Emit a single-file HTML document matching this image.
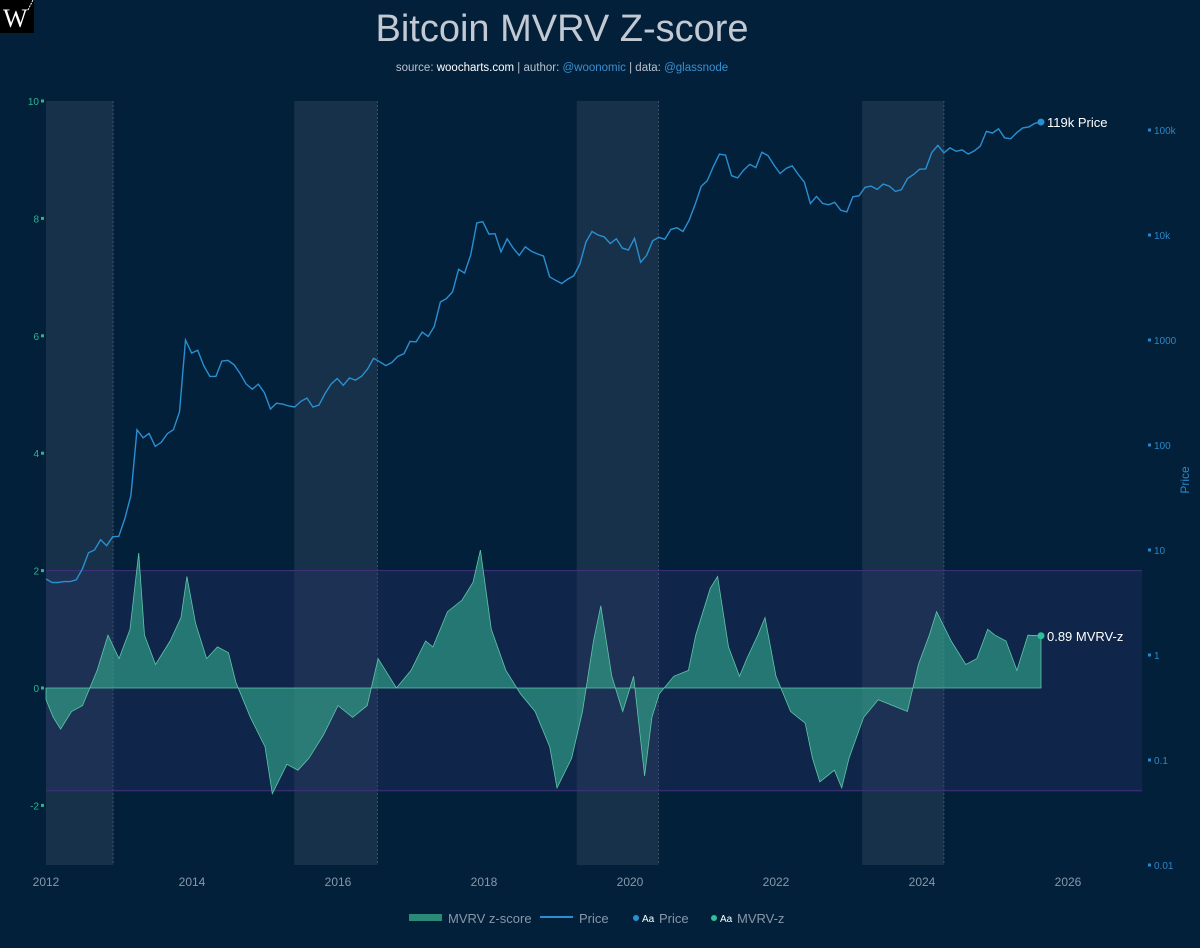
<!DOCTYPE html>
<html><head><meta charset="utf-8"><style>
html,body{margin:0;padding:0;background:#03203a;}
svg{display:block;font-family:"Liberation Sans",sans-serif;}
</style></head><body>
<svg id="chart" width="1200" height="948" viewBox="0 0 1200 948">
<rect x="0" y="0" width="1200" height="948" fill="#03203a"/>
<g><rect x="0" y="0" width="34" height="33" fill="#000"/><text x="3" y="27" fill="#fff" font-family="Liberation Serif,serif" font-size="26">W</text><line x1="28" y1="10" x2="33" y2="0" stroke="#fff" stroke-dasharray="2,1"/></g>
<text x="562" y="41" text-anchor="middle" fill="#c3c9d2" font-size="38" font-weight="200">Bitcoin MVRV Z-score</text>
<text x="562" y="71" text-anchor="middle" fill="#b9c1cc" font-size="11.5">source: <tspan fill="#fff">woocharts.com</tspan> | author: <tspan fill="#3a8fd0">@woonomic</tspan> | data: <tspan fill="#3a8fd0">@glassnode</tspan></text>
<g id="shade"></g>
<g id="band"></g>
<g id="zarea"></g>
<g id="priceg"></g>
<g id="axes"></g>
<g font-size="13" fill="#8797aa">
<rect x="409" y="914" width="33" height="7" fill="#2a8a77"/>
<text x="448" y="923" fill="#8797aa">MVRV z-score</text>
<line x1="540" y1="917" x2="573" y2="917" stroke="#2a8fd0" stroke-width="2"/>
<text x="579" y="923" fill="#8797aa">Price</text>
<circle cx="636" cy="918" r="3" fill="#2a8fd0"/>
<text x="642" y="922" font-size="10" fill="#fff">Aa</text><text x="659" y="923" fill="#8797aa">Price</text>
<circle cx="714" cy="918" r="3" fill="#2bc19a"/>
<text x="720" y="922" font-size="10" fill="#fff">Aa</text><text x="737" y="923" fill="#8797aa">MVRV-z</text>
</g>
</svg>
<script>
const priceStart = 2012.0;
const priceMonthly = [5.3,4.9,4.9,5,5,5.2,6.6,9.4,10,12.5,11,13.4,
13.5,20,33,140,117,129,97,106,128,140,206,1000,
750,800,570,450,450,630,640,580,480,380,340,380,
315,220,250,245,235,230,260,280,230,240,310,380,
430,370,435,415,450,530,670,620,570,610,700,740,
970,960,1190,1080,1350,2300,2480,2870,4700,4340,6450,13000,
13400,10200,10300,6900,9200,7500,6400,7700,7000,6600,6300,4000,
3700,3450,3800,4100,5300,8600,10800,10000,9600,8300,9200,7500,
7200,9300,5500,6400,8800,9500,9100,11300,11700,10800,13800,19600,
29000,33000,45000,58800,57700,36700,35000,41500,47100,43800,61300,57000,
46300,38500,43200,45500,37700,31800,19900,23300,20000,19400,20500,17200,
16600,23100,23600,28400,29200,27200,30500,29200,26000,27000,34500,37700,
42300,42600,61100,71300,60600,67500,62700,64600,58900,63300,70200,97000,
93400,102400,84300,82500,94200,104600,107100,115700,119000];
const zYears = [2012.0,2012.1,2012.2,2012.35,2012.5,2012.7,2012.85,2013.0,2013.15,2013.27,2013.35,2013.5,2013.7,2013.85,2013.93,2014.05,2014.2,2014.35,2014.5,2014.6,2014.8,2015.0,2015.1,2015.3,2015.45,2015.6,2015.8,2016.0,2016.2,2016.4,2016.55,2016.8,2017.0,2017.2,2017.3,2017.5,2017.7,2017.85,2017.95,2018.1,2018.3,2018.5,2018.7,2018.9,2019.0,2019.2,2019.35,2019.5,2019.6,2019.75,2019.9,2020.05,2020.2,2020.3,2020.4,2020.6,2020.8,2020.9,2021.1,2021.2,2021.35,2021.5,2021.6,2021.75,2021.85,2022.0,2022.2,2022.4,2022.5,2022.6,2022.8,2022.9,2023.0,2023.2,2023.4,2023.6,2023.8,2023.95,2024.1,2024.2,2024.4,2024.6,2024.75,2024.9,2025.0,2025.15,2025.3,2025.45,2025.63];
const zValues = [-0.2,-0.5,-0.7,-0.4,-0.3,0.3,0.9,0.5,1.0,2.3,0.9,0.4,0.8,1.2,1.9,1.1,0.5,0.7,0.6,0.1,-0.5,-1.0,-1.8,-1.3,-1.4,-1.2,-0.8,-0.3,-0.5,-0.3,0.5,0.0,0.3,0.8,0.7,1.3,1.5,1.8,2.35,1.0,0.3,-0.1,-0.4,-1.0,-1.7,-1.2,-0.4,0.8,1.4,0.2,-0.4,0.2,-1.5,-0.5,-0.1,0.2,0.3,0.9,1.7,1.9,0.7,0.2,0.5,0.9,1.2,0.2,-0.4,-0.6,-1.2,-1.6,-1.4,-1.7,-1.2,-0.5,-0.2,-0.3,-0.4,0.4,0.9,1.3,0.8,0.4,0.5,1.0,0.9,0.8,0.3,0.9,0.89];
const xTicks = [2012,2014,2016,2018,2020,2022,2024,2026];
const zTicks = [-2,0,2,4,6,8,10];
const priceTicks = [0.01,0.1,1,10,100,1000,10000,100000];
const priceTickLabels = ["0.01","0.1","1","10","100","1000","10k","100k"];
const shadeRanges = [[2012.0,2012.92],[2015.4,2016.54],[2019.27,2020.39],[2023.18,2024.3]];
const bandLevels = [2,-1.75];

const NS="http://www.w3.org/2000/svg";
const X=y=>46+(y-2012)*73.0;
const YZ=z=>688-z*58.7;
const YP=p=>655-Math.log10(p)*105;
const TOP=101,BOT=865,LEFT=46,RIGHT=1142;
function mk(tag,attrs,parent){const e=document.createElementNS(NS,tag);for(const k in attrs)e.setAttribute(k,attrs[k]);parent.appendChild(e);return e;}
const shade=document.getElementById('shade'),band=document.getElementById('band'),za=document.getElementById('zarea'),pg=document.getElementById('priceg'),ax=document.getElementById('axes');

shadeRanges.forEach(r=>{
  const e=mk('rect',{x:X(r[0]),y:TOP,width:X(r[1])-X(r[0]),height:BOT-TOP,fill:'rgba(255,255,255,0.08)'},shade);
  
  
  const l=mk('line',{x1:X(r[1]),x2:X(r[1]),y1:TOP,y2:BOT,stroke:'rgba(255,255,255,0.2)','stroke-dasharray':'2,2'},shade);
  
  
});
const b=mk('rect',{x:LEFT,y:YZ(bandLevels[0]),width:RIGHT-LEFT,height:YZ(bandLevels[1])-YZ(bandLevels[0]),fill:'rgba(50,50,125,0.25)'},band);


bandLevels.forEach(v=>{const l=mk('line',{x1:LEFT,x2:RIGHT,y1:YZ(v),y2:YZ(v),stroke:'#43307f','stroke-width':1},band);

});

let d='M'+X(zYears[0])+','+YZ(0);
zYears.forEach((t,i)=>{d+=' L'+X(t).toFixed(1)+','+YZ(zValues[i]).toFixed(1);});
d+=' L'+X(zYears[zYears.length-1])+','+YZ(0)+' Z';
const area=mk('path',{d:d,fill:'rgba(52,170,140,0.62)',stroke:'#5fc5aa','stroke-width':0.8},za);



let pd='';
priceMonthly.forEach((p,i)=>{const xx=X(priceStart+i*(13.63/(priceMonthly.length-1)));pd+=(i?' L':'M')+xx.toFixed(1)+','+YP(p).toFixed(1);});
const pl=mk('path',{d:pd,fill:'none',stroke:'#2a8fd0','stroke-width':1.4},pg);


const lastX=X(priceStart+13.63);
const pdot=mk('circle',{cx:lastX,cy:YP(priceMonthly[priceMonthly.length-1]),r:3.5,fill:'#2a8fd0'},pg);


const pt=mk('text',{x:lastX+6,y:YP(priceMonthly[priceMonthly.length-1])+5,fill:'#fff','font-size':13},pg);
pt.textContent='119k Price';


const zl=zValues[zValues.length-1],zx=X(zYears[zYears.length-1]);
const zdot=mk('circle',{cx:zx,cy:YZ(zl),r:3.5,fill:'#2bc19a'},pg);


const zt=mk('text',{x:zx+6,y:YZ(zl)+5,fill:'#fff','font-size':13},pg);
zt.textContent=zl.toFixed(2)+' MVRV-z';



xTicks.forEach(t=>{const e=mk('text',{x:X(t),y:886,'text-anchor':'middle',fill:'#8797aa','font-size':12},ax);e.textContent=t;

});
zTicks.forEach(v=>{const e=mk('text',{x:39,y:YZ(v)+4,'text-anchor':'end',fill:'#2fb38f','font-size':10},ax);e.textContent=v;


mk('rect',{x:41,y:YZ(v)-1.5,width:3,height:3,fill:'#2fb38f'},ax);});
priceTicks.forEach((v,i)=>{const e=mk('text',{x:1154,y:YP(v)+4,fill:'#2c86c4','font-size':10},ax);e.textContent=priceTickLabels[i];


mk('rect',{x:1148,y:YP(v)-1.5,width:3,height:3,fill:'#2c86c4'},ax);});
const yt=mk('text',{x:0,y:0,fill:'#2c86c4','font-size':12,'text-anchor':'middle',transform:'translate(1189,480) rotate(-90)'},ax);
yt.textContent='Price';


</script>
</body></html>
